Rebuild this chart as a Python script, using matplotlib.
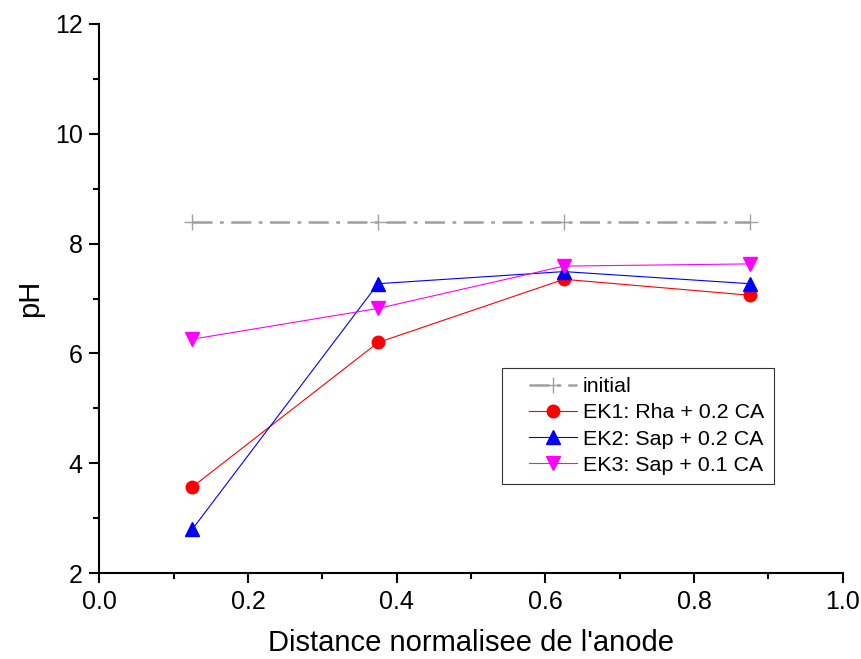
import numpy as np
import matplotlib.pyplot as plt
from matplotlib.ticker import MultipleLocator
from matplotlib.legend_handler import HandlerLine2D

plt.rcParams['font.family'] = ['Liberation Sans', 'DejaVu Sans']

# Daten
distance = [0.125, 0.375, 0.625, 0.875]
ph_initial = [8.4, 8.4, 8.4, 8.4]
ph_ek1 = [3.57, 6.2, 7.35, 7.06]
ph_ek2 = [2.8, 7.27, 7.49, 7.27]
ph_ek3 = [6.26, 6.82, 7.59, 7.63]


# Legenden-Symbol etwas nach rechts schieben (mehr Abstand zum Rahmen)
class ShiftedLine(HandlerLine2D):
    def adjust_drawing_area(self, legend, orig_handle, xdescent, ydescent, width, height, fontsize):
        xd, yd, w, h = super().adjust_drawing_area(legend, orig_handle, xdescent, ydescent,
                                                    width, height, fontsize)
        s = 0.8 * fontsize
        return xd - s, yd, w - s, h


fig = plt.figure(figsize=(8.62, 6.59), dpi=100)
ax = fig.add_axes([0.1152, 0.130, 0.8624, 0.834])

ax.plot(distance, ph_initial, color='#a0a0a0', linestyle=(0, (8, 3, 1.5, 3)), linewidth=1.8,
        marker='+', markersize=11, markeredgewidth=1, label='initial')
ax.plot(distance, ph_ek1, 'r-', linewidth=0.8, marker='o', markersize=9, label='EK1: Rha + 0.2 CA')
ax.plot(distance, ph_ek2, 'b-', linewidth=0.8, marker='^', markersize=10, label='EK2: Sap + 0.2 CA')
ax.plot(distance, ph_ek3, color='magenta', linewidth=0.8, marker='v', markersize=10,
        label='EK3: Sap + 0.1 CA')

ax.set_xlim(0, 1)
ax.set_ylim(2, 12)
ax.xaxis.set_major_locator(MultipleLocator(0.2))
ax.xaxis.set_minor_locator(MultipleLocator(0.1))
ax.yaxis.set_major_locator(MultipleLocator(2))
ax.yaxis.set_minor_locator(MultipleLocator(1))
ax.xaxis.set_major_formatter(plt.FormatStrFormatter('%.1f'))

for s in ['top', 'right']:
    ax.spines[s].set_visible(False)
for s in ['left', 'bottom']:
    ax.spines[s].set_linewidth(1.5)
ax.tick_params(which='major', direction='out', length=7, width=1.5, labelsize=18, pad=5)
ax.tick_params(which='minor', direction='out', length=4, width=1.5)

ax.set_xlabel("Distance normalisee de l'anode", fontsize=21, labelpad=11)
ax.set_ylabel('pH', fontsize=21, labelpad=8)

leg = ax.legend(loc='upper left', bbox_to_anchor=(0.5417, 0.374),
                fontsize=15.4, fancybox=False, edgecolor='#333333', framealpha=1,
                handlelength=3.05, handletextpad=0.28, labelspacing=0.33, borderpad=0.45,
                borderaxespad=0, handler_map={plt.Line2D: ShiftedLine()})
leg.get_frame().set_linewidth(0.8)

fig.savefig('out.png', dpi=100)
